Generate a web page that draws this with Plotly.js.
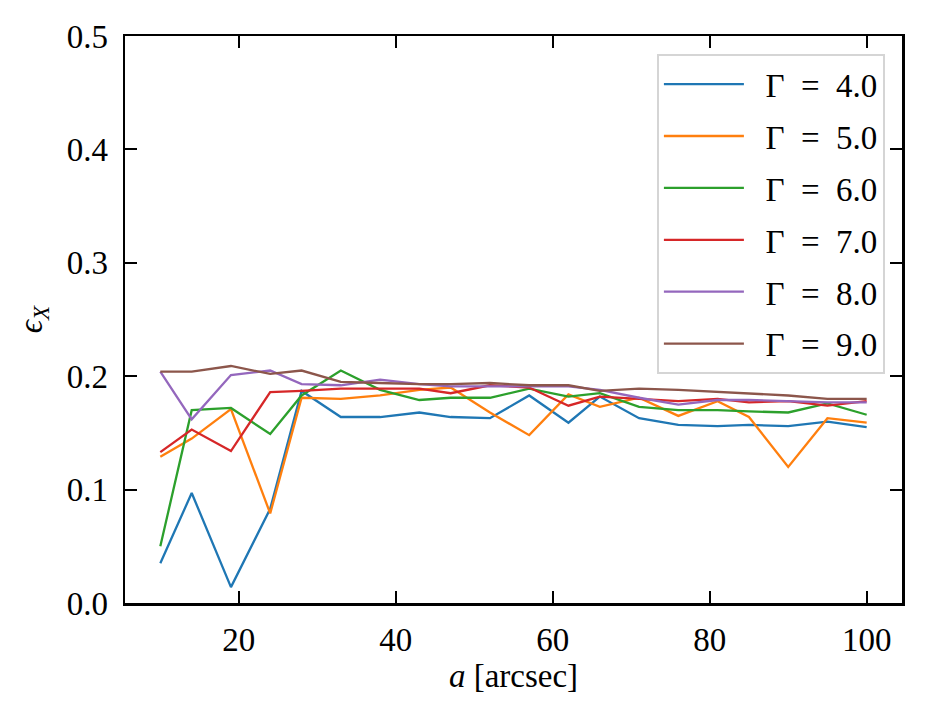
<!DOCTYPE html>
<html>
<head>
<meta charset="utf-8">
<script src="https://cdn.plot.ly/plotly-3.0.1.min.js"></script>
<style>
  html, body { margin: 0; padding: 0; background: #fff; }
  #plot { width: 925px; height: 719px; }
</style>
</head>
<body>
<div id="plot"></div>
<script>
// aperture radius a [arcsec]
var aValues = [10, 14, 19, 24, 28, 33, 38, 43, 47, 52, 57, 62, 66, 71, 76, 81, 85, 90, 95, 100];

var gammaLabels = ['\u2002Γ\u2002=\u20024.0', '\u2002Γ\u2002=\u20025.0', '\u2002Γ\u2002=\u20026.0',
                   '\u2002Γ\u2002=\u20027.0', '\u2002Γ\u2002=\u20028.0', '\u2002Γ\u2002=\u20029.0'];

var eps40 = [0.035, 0.097, 0.014, 0.083, 0.187, 0.164, 0.164, 0.168, 0.164, 0.163, 0.183, 0.159, 0.182, 0.163, 0.157, 0.156, 0.157, 0.156, 0.160, 0.155];
var eps50 = [0.129, 0.145, 0.171, 0.079, 0.181, 0.180, 0.183, 0.188, 0.190, 0.168, 0.148, 0.184, 0.173, 0.181, 0.165, 0.178, 0.164, 0.120, 0.163, 0.159];
var eps60 = [0.050, 0.170, 0.172, 0.149, 0.183, 0.205, 0.188, 0.179, 0.181, 0.181, 0.189, 0.182, 0.185, 0.173, 0.170, 0.170, 0.169, 0.168, 0.176, 0.166];
var eps70 = [0.133, 0.153, 0.134, 0.186, 0.187, 0.189, 0.189, 0.189, 0.185, 0.192, 0.190, 0.174, 0.182, 0.180, 0.178, 0.180, 0.177, 0.178, 0.174, 0.178];
var eps80 = [0.204, 0.162, 0.201, 0.205, 0.193, 0.192, 0.197, 0.193, 0.191, 0.191, 0.191, 0.191, 0.188, 0.181, 0.175, 0.179, 0.179, 0.178, 0.177, 0.177];
var eps90 = [0.204, 0.204, 0.209, 0.202, 0.205, 0.195, 0.194, 0.193, 0.193, 0.194, 0.192, 0.192, 0.187, 0.189, 0.188, 0.186, 0.185, 0.183, 0.180, 0.180];

var xTicks = [20, 40, 60, 80, 100];
var yTicks = [0.0, 0.1, 0.2, 0.3, 0.4, 0.5];

var colors = ['#1f77b4', '#ff7f0e', '#2ca02c', '#d62728', '#9467bd', '#8c564b'];
var series = [eps40, eps50, eps60, eps70, eps80, eps90];

var data = [];
for (var i = 0; i < series.length; ++i) {
    data.push({
        x: aValues,
        y: series[i],
        name: gammaLabels[i],
        type: 'scatter',
        mode: 'lines',
        line: { color: colors[i], width: 2.3 },
        legendgroup: 'g' + i
    });
}

var serif = 'Liberation Serif, DejaVu Serif, serif';

var axisCommon = {
    showline: true,
    linecolor: '#000',
    linewidth: 2.5,
    mirror: 'allticks',
    ticks: 'inside',
    ticklen: 12,
    tickwidth: 2,
    tickcolor: '#000',
    showgrid: false,
    zeroline: false,
    tickfont: { family: serif, size: 33, color: '#000' }
};

var layout = {
    width: 925,
    height: 719,
    margin: { l: 125, r: 23, t: 36, b: 116 },
    paper_bgcolor: '#fff',
    plot_bgcolor: '#fff',
    font: { family: serif, color: '#000' },
    xaxis: Object.assign({}, axisCommon, {
        range: [5.5, 104.5],
        tickvals: xTicks,
        ticklabelstandoff: 6,
        automargin: true,
        title: { text: '<i>a</i> [arcsec]', font: { family: serif, size: 33 }, standoff: 0 }
    }),
    yaxis: Object.assign({}, axisCommon, {
        range: [0, 0.5],
        tickvals: yTicks,
        tickformat: '.1f',
        ticklabelstandoff: 8,
        title: { text: '<i>ϵ<sub>X</sub></i>', font: { family: serif, size: 33 }, standoff: 14 }
    }),
    legend: {
        x: 0.978,
        y: 0.968,
        xanchor: 'right',
        yanchor: 'top',
        bgcolor: 'rgba(255,255,255,0.8)',
        bordercolor: '#d5d5d5',
        borderwidth: 2,
        tracegroupgap: 6,
        itemwidth: 80,
        font: { family: serif, size: 33, color: '#000' }
    },
    showlegend: true
};

Plotly.newPlot('plot', data, layout, { staticPlot: true, displayModeBar: false });
</script>
</body>
</html>
